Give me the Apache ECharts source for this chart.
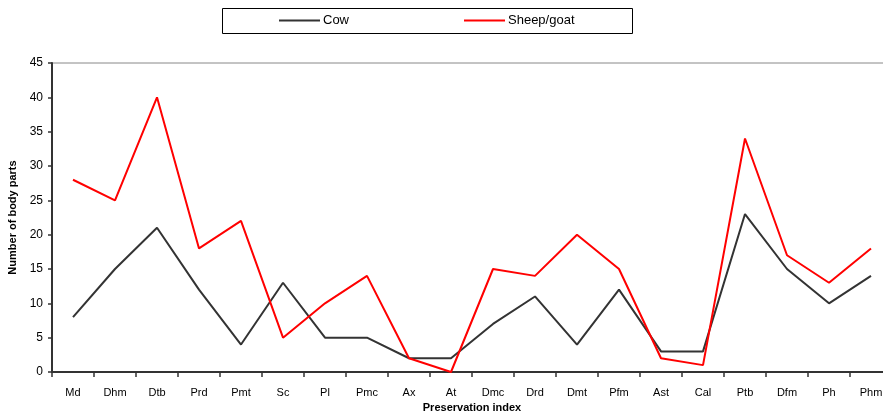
<!DOCTYPE html>
<html>
<head>
<meta charset="utf-8">
<script src="https://cdn.jsdelivr.net/npm/echarts@6/dist/echarts.min.js"></script>
<style>
html,body{margin:0;padding:0;background:#fff;}
#c{width:883px;height:414px;}
</style>
</head>
<body>
<div id="c"></div>
<script>
const categories = ["Md","Dhm","Dtb","Prd","Pmt","Sc","Pl","Pmc","Ax","At","Dmc","Drd","Dmt","Pfm","Ast","Cal","Ptb","Dfm","Ph","Phm"];
const cow = [8,15,21,12,4,13,5,5,2,2,7,11,4,12,3,3,23,15,10,14];
const sheepGoat = [28,25,40,18,22,5,10,14,2,0,15,14,20,15,2,1,34,17,13,18];
const yTicks = [0,5,10,15,20,25,30,35,40,45];

const chart = echarts.init(document.getElementById('c'), null, {renderer:'canvas'});
const font = 'Liberation Sans, Arial, sans-serif';
chart.setOption({
  animation:false,
  backgroundColor:'#fff',
  textStyle:{fontFamily:font},
  graphic:[
    {type:'rect', shape:{x:222.5,y:8.5,width:410,height:25}, style:{fill:'#fff',stroke:'#000',lineWidth:1}, z:-1}
  ],
  legend:{
    top:14, left:279, padding:0, itemGap:115, itemWidth:41, itemHeight:2,
    icon:'rect',
    textStyle:{fontSize:13,color:'#000',fontFamily:font, padding:[6,0,0,-2]},
    data:['Cow','Sheep/goat']
  },
  grid:{left:52, top:63, right:-9, bottom:42, outerBoundsMode:'none', containLabel:false,
        show:true, borderColor:'#888', borderWidth:1},
  xAxis:{
    type:'category', data:categories, boundaryGap:true,
    name:'Preservation index', nameLocation:'middle', nameGap:30,
    nameTextStyle:{fontWeight:'bold',fontSize:11,color:'#000',fontFamily:font},
    axisLine:{lineStyle:{color:'#333',width:2}},
    axisTick:{show:true,alignWithLabel:false,length:5,lineStyle:{color:'#333',width:1.5}},
    axisLabel:{fontSize:11,color:'#000',margin:15,interval:0,fontFamily:font},
    splitLine:{show:false}
  },
  yAxis:{
    type:'value', min:0, max:45, interval:5,
    name:'Number of body parts', nameLocation:'middle', nameGap:28, nameRotate:90,
    nameTextStyle:{fontWeight:'bold',fontSize:11,color:'#000',fontFamily:font},
    axisLine:{show:true,lineStyle:{color:'#333',width:2}},
    axisTick:{show:true,length:4,inside:false,lineStyle:{color:'#333',width:1.5}},
    axisLabel:{fontSize:12,color:'#000',margin:9,fontFamily:font,
      formatter:function(v){return yTicks.indexOf(v)>=0?String(v):'';}},
    splitLine:{show:false}
  },
  series:[
    {name:'Cow', type:'line', data:cow, symbol:'none', lineStyle:{color:'#333',width:2}, itemStyle:{color:'#333'}},
    {name:'Sheep/goat', type:'line', data:sheepGoat, symbol:'none', lineStyle:{color:'#ff0000',width:2}, itemStyle:{color:'#ff0000'}}
  ]
});
</script>
</body>
</html>
